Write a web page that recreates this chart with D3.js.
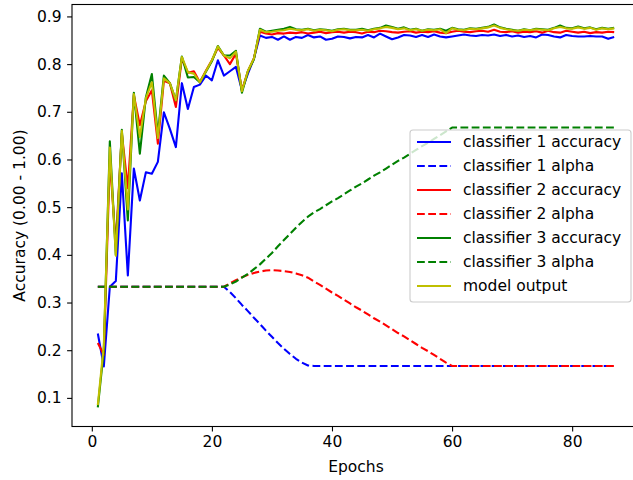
<!DOCTYPE html>
<html>
<head>
<meta charset="utf-8">
<script src="https://cdn.jsdelivr.net/npm/d3@7"></script>
<style>
  body { margin: 0; background: #fff; }
  svg text { font-family: "DejaVu Sans", sans-serif; }
</style>
</head>
<body>
<svg id="chart"></svg>
<script>
// epochs 1..87
const epochs = d3.range(1, 88);

const c1Acc = [0.235, 0.166, 0.333, 0.345, 0.571, 0.357, 0.581, 0.514, 0.573, 0.570,
  0.595, 0.699, 0.664, 0.626, 0.760, 0.706, 0.752, 0.757, 0.776, 0.766,
  0.808, 0.776, 0.785, 0.794, 0.745, 0.780, 0.812, 0.860, 0.855, 0.857,
  0.851, 0.858, 0.851, 0.857, 0.855, 0.861, 0.856, 0.858, 0.851, 0.853,
  0.858, 0.857, 0.854, 0.857, 0.856, 0.861, 0.856, 0.864, 0.858, 0.852,
  0.856, 0.861, 0.860, 0.857, 0.861, 0.857, 0.862, 0.858, 0.856, 0.858,
  0.860, 0.862, 0.860, 0.859, 0.861, 0.860, 0.862, 0.859, 0.861, 0.858,
  0.860, 0.857, 0.859, 0.856, 0.862, 0.861, 0.858, 0.856, 0.861, 0.859,
  0.858, 0.858, 0.859, 0.858, 0.858, 0.853, 0.857];

const c2Acc = [0.215, 0.190, 0.600, 0.420, 0.655, 0.540, 0.735, 0.672, 0.722, 0.745,
  0.633, 0.765, 0.760, 0.710, 0.812, 0.782, 0.785, 0.762, 0.786, 0.808,
  0.834, 0.818, 0.800, 0.822, 0.745, 0.785, 0.812, 0.868, 0.864, 0.862,
  0.865, 0.864, 0.866, 0.865, 0.867, 0.864, 0.866, 0.868, 0.865, 0.867,
  0.868, 0.866, 0.868, 0.867, 0.864, 0.868, 0.867, 0.870, 0.869, 0.867,
  0.866, 0.868, 0.869, 0.866, 0.868, 0.867, 0.869, 0.866, 0.865, 0.868,
  0.870, 0.868, 0.867, 0.869, 0.870, 0.868, 0.872, 0.868, 0.867, 0.869,
  0.866, 0.868, 0.867, 0.869, 0.866, 0.870, 0.867, 0.866, 0.870, 0.868,
  0.866, 0.868, 0.865, 0.867, 0.866, 0.868, 0.867];

const c3Acc = [0.080, 0.200, 0.638, 0.400, 0.662, 0.472, 0.740, 0.612, 0.730, 0.779,
  0.652, 0.776, 0.760, 0.724, 0.816, 0.772, 0.773, 0.762, 0.784, 0.806,
  0.838, 0.818, 0.818, 0.828, 0.740, 0.785, 0.810, 0.874, 0.868, 0.870,
  0.872, 0.874, 0.878, 0.873, 0.872, 0.874, 0.871, 0.873, 0.872, 0.870,
  0.873, 0.874, 0.872, 0.872, 0.874, 0.871, 0.874, 0.876, 0.881, 0.878,
  0.874, 0.877, 0.872, 0.874, 0.870, 0.873, 0.872, 0.874, 0.870, 0.876,
  0.873, 0.872, 0.875, 0.874, 0.876, 0.878, 0.883, 0.877, 0.874, 0.872,
  0.870, 0.873, 0.871, 0.874, 0.873, 0.872, 0.876, 0.881, 0.876, 0.875,
  0.879, 0.875, 0.877, 0.873, 0.876, 0.874, 0.876];

const modelOut = [0.085, 0.210, 0.625, 0.398, 0.660, 0.495, 0.737, 0.647, 0.728, 0.762,
  0.645, 0.770, 0.760, 0.724, 0.815, 0.783, 0.780, 0.762, 0.785, 0.808,
  0.837, 0.818, 0.812, 0.826, 0.743, 0.786, 0.812, 0.872, 0.867, 0.868,
  0.870, 0.871, 0.874, 0.872, 0.871, 0.873, 0.870, 0.872, 0.871, 0.869,
  0.872, 0.873, 0.871, 0.871, 0.872, 0.870, 0.873, 0.875, 0.878, 0.876,
  0.873, 0.875, 0.871, 0.873, 0.870, 0.872, 0.871, 0.873, 0.865, 0.875,
  0.872, 0.871, 0.874, 0.873, 0.875, 0.877, 0.881, 0.876, 0.873, 0.871,
  0.870, 0.872, 0.871, 0.873, 0.872, 0.871, 0.875, 0.878, 0.875, 0.874,
  0.877, 0.874, 0.876, 0.872, 0.875, 0.873, 0.875];

const c1Alpha = [0.333, 0.333, 0.333, 0.333, 0.333, 0.333, 0.333, 0.333, 0.333, 0.333,
  0.333, 0.333, 0.333, 0.333, 0.333, 0.333, 0.333, 0.333, 0.333, 0.333,
  0.333, 0.333, 0.322, 0.309, 0.295, 0.282, 0.268, 0.255, 0.241, 0.228,
  0.215, 0.203, 0.192, 0.182, 0.174, 0.168, 0.167, 0.167, 0.167, 0.167,
  0.167, 0.167, 0.167, 0.167, 0.167, 0.167, 0.167, 0.167, 0.167, 0.167,
  0.167, 0.167, 0.167, 0.167, 0.167, 0.167, 0.167, 0.167, 0.167, 0.167,
  0.167, 0.167, 0.167, 0.167, 0.167, 0.167, 0.167, 0.167, 0.167, 0.167,
  0.167, 0.167, 0.167, 0.167, 0.167, 0.167, 0.167, 0.167, 0.167, 0.167,
  0.167, 0.167, 0.167, 0.167, 0.167, 0.167, 0.167];

const c2Alpha = [0.333, 0.333, 0.333, 0.333, 0.333, 0.333, 0.333, 0.333, 0.333, 0.333,
  0.333, 0.333, 0.333, 0.333, 0.333, 0.333, 0.333, 0.333, 0.333, 0.333,
  0.333, 0.333, 0.340, 0.347, 0.353, 0.358, 0.362, 0.365, 0.367, 0.368,
  0.367, 0.366, 0.364, 0.361, 0.357, 0.352, 0.344, 0.337, 0.329, 0.321,
  0.314, 0.306, 0.298, 0.290, 0.283, 0.275, 0.267, 0.260, 0.252, 0.244,
  0.236, 0.229, 0.221, 0.213, 0.205, 0.198, 0.190, 0.182, 0.174, 0.167,
  0.167, 0.167, 0.167, 0.167, 0.167, 0.167, 0.167, 0.167, 0.167, 0.167,
  0.167, 0.167, 0.167, 0.167, 0.167, 0.167, 0.167, 0.167, 0.167, 0.167,
  0.167, 0.167, 0.167, 0.167, 0.167, 0.167, 0.167];

const c3Alpha = [0.333, 0.333, 0.333, 0.333, 0.333, 0.333, 0.333, 0.333, 0.333, 0.333,
  0.333, 0.333, 0.333, 0.333, 0.333, 0.333, 0.333, 0.333, 0.333, 0.333,
  0.333, 0.333, 0.338, 0.344, 0.352, 0.360, 0.370, 0.380, 0.392, 0.404,
  0.418, 0.431, 0.444, 0.457, 0.469, 0.480, 0.489, 0.496, 0.504, 0.512,
  0.519, 0.527, 0.535, 0.543, 0.550, 0.558, 0.566, 0.573, 0.581, 0.589,
  0.597, 0.604, 0.612, 0.620, 0.628, 0.635, 0.643, 0.651, 0.659, 0.667,
  0.667, 0.667, 0.667, 0.667, 0.667, 0.667, 0.667, 0.667, 0.667, 0.667,
  0.667, 0.667, 0.667, 0.667, 0.667, 0.667, 0.667, 0.667, 0.667, 0.667,
  0.667, 0.667, 0.667, 0.667, 0.667, 0.667, 0.667];

const xTicks = [0, 20, 40, 60, 80];
const yTicks = [0.1, 0.2, 0.3, 0.4, 0.5, 0.6, 0.7, 0.8, 0.9];

const series = [
  { label: 'classifier 1 accuracy', values: c1Acc, color: '#0000ff', dashed: false },
  { label: 'classifier 1 alpha', values: c1Alpha, color: '#0000ff', dashed: true },
  { label: 'classifier 2 accuracy', values: c2Acc, color: '#ff0000', dashed: false },
  { label: 'classifier 2 alpha', values: c2Alpha, color: '#ff0000', dashed: true },
  { label: 'classifier 3 accuracy', values: c3Acc, color: '#008000', dashed: false },
  { label: 'classifier 3 alpha', values: c3Alpha, color: '#008000', dashed: true },
  { label: 'model output', values: modelOut, color: '#bfbf00', dashed: false }
];

const width = 633, height = 480;
const plotL = 72, plotR = 640, plotT = 4.5, plotB = 426.5;
const lw = 2.1, dash = '7.8,3.4';
const fs = 15.5;

const svg = d3.select('#chart')
  .attr('width', width)
  .attr('height', height);

const x = d3.scaleLinear().domain([-3.3, 91.3]).range([plotL, plotR]);
const y = d3.scaleLinear().domain([0.04, 0.925]).range([plotB, plotT]);

//LINES
const line = d3.line()
  .x((d, i) => x(epochs[i]))
  .y((d) => y(d));

svg.selectAll('.series')
  .data(series)
  .enter()
  .append('path')
  .attr('fill', 'none')
  .attr('stroke', (d) => d.color)
  .attr('stroke-width', lw)
  .attr('stroke-dasharray', (d) => (d.dashed ? dash : null))
  .attr('stroke-linejoin', 'round')
  .attr('d', (d) => line(d.values));

//AXES
const xAxis = svg.append('g')
  .attr('transform', `translate(0,${plotB})`)
  .call(d3.axisBottom(x).tickValues(xTicks).tickSize(4.9).tickPadding(4.9));

const yAxis = svg.append('g')
  .attr('transform', `translate(${plotL},0)`)
  .call(d3.axisLeft(y).tickValues(yTicks).tickFormat(d3.format('.1f')).tickSize(4.9).tickPadding(5.5));

[xAxis, yAxis].forEach((g) => {
  g.select('.domain').remove();
  g.selectAll('.tick line').attr('stroke', '#000').attr('stroke-width', 1.1);
  g.selectAll('.tick text').attr('font-size', fs).attr('fill', '#000')
    .style('font-family', '"DejaVu Sans", sans-serif');
});

// spines
svg.append('rect')
  .attr('x', plotL)
  .attr('y', plotT)
  .attr('width', plotR - plotL)
  .attr('height', plotB - plotT)
  .attr('fill', 'none')
  .attr('stroke', '#000')
  .attr('stroke-width', 1.1);

//LABELS
svg.append('text')
  .attr('x', (plotL + plotR) / 2)
  .attr('y', 472)
  .attr('font-size', fs)
  .style('text-anchor', 'middle')
  .text('Epochs');

svg.append('text')
  .attr('transform', `translate(25,${(plotT + plotB) / 2}) rotate(-90)`)
  .attr('font-size', fs)
  .style('text-anchor', 'middle')
  .text('Accuracy (0.00 - 1.00)');

//LEGEND
const legend = svg.append('g');

legend.append('rect')
  .attr('x', 410)
  .attr('y', 130)
  .attr('width', 221)
  .attr('height', 172)
  .attr('rx', 3)
  .attr('fill', '#fff')
  .attr('fill-opacity', 0.8)
  .attr('stroke', '#cccccc')
  .attr('stroke-width', 1.1);

const rows = legend.selectAll('.row')
  .data(series)
  .enter()
  .append('g')
  .attr('transform', (d, i) => `translate(0,${142 + i * 24})`);

rows.append('line')
  .attr('x1', 417)
  .attr('x2', 451)
  .attr('stroke', (d) => d.color)
  .attr('stroke-width', lw)
  .attr('stroke-dasharray', (d) => (d.dashed ? dash : null));

rows.append('text')
  .attr('x', 463)
  .attr('dy', '0.35em')
  .attr('font-size', fs)
  .attr('fill', '#000')
  .text((d) => d.label);
</script>
</body>
</html>
